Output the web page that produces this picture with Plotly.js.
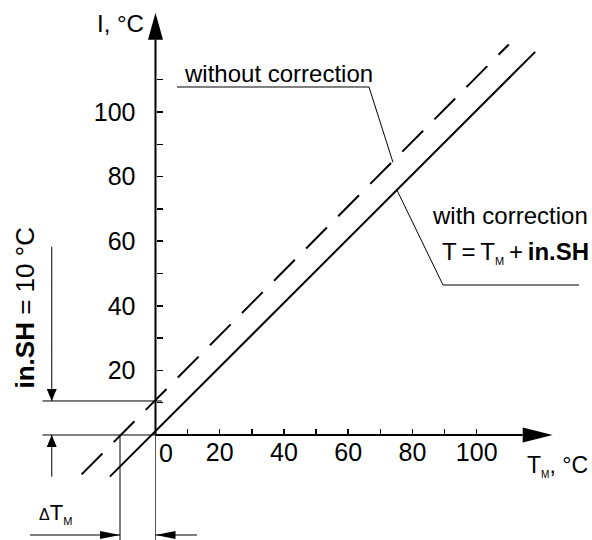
<!DOCTYPE html>
<html>
<head>
<meta charset="utf-8">
<script src="https://cdn.plot.ly/plotly-3.0.1.min.js"></script>
<style>html,body{margin:0;padding:0;background:#fff;}#chart{width:592px;height:540px;}</style>
</head>
<body>
<div id="chart"></div>
<script>
// ---- data ----
const tmWithout = [-23, 110];          // T_M for the "without correction" line (dashed)
const tWithout  = [-12.2, 120.9];      // T values
const tmWith    = [-14.2, 118.2];      // T_M for the "with correction" line (solid)
const tWith     = [-12.9, 118.6];
const xTickVals = [10, 20, 30, 40, 50, 60, 70, 80, 90, 100];
const xTickText = ['', '20', '', '40', '', '60', '', '80', '', '100'];
const yTickVals = [10, 20, 30, 40, 50, 60, 70, 80, 90, 100, 110];
const yTickText = ['', '20', '', '40', '', '60', '', '80', '', '100', ''];

const FONT = 'Liberation Sans, Arial, sans-serif';
const FS = 24;
const TFS = 25;

const traces = [
  {x: tmWithout, y: tWithout, mode: 'lines', line: {color: '#000', width: 2, dash: '29.5px,16px'}, hoverinfo: 'skip', showlegend: false},
  {x: tmWith, y: tWith, mode: 'lines', line: {color: '#000', width: 2}, hoverinfo: 'skip', showlegend: false}
];

function ln(x0, y0, x1, y1, w, c) {
  return {type: 'line', xref: 'x', yref: 'y', x0: x0, y0: y0, x1: x1, y1: y1, line: {color: c || '#000', width: w}};
}
function head(x, y, path) {
  return {type: 'path', xref: 'x', yref: 'y', xsizemode: 'pixel', ysizemode: 'pixel', xanchor: x, yanchor: y,
          path: path, fillcolor: '#000', line: {width: 0}};
}

const shapes = [
  // axes
  ln(0, 0, 114.3, 0, 2), ln(-35.2, 0, 0, 0, 1),
  ln(0, 0, 0, 122.5, 2), ln(0, -32.6, 0, 0, 1, '#555'),
  head(123.66, 0, 'M0,0 L-30,-7.5 L-30,7.5 Z'),
  head(0, 130.7, 'M0,0 L-7.5,-27 L7.5,-27 Z'),
  // in.SH dimension
  ln(-35.2, 10.53, 2.0, 10.53, 1),
  ln(-32.3, 58.3, -32.3, 10.53, 1),
  head(-32.3, 10.53, 'M0,0 L-5,12 L5,12 Z'),
  ln(-32.3, -12.9, -32.3, 0, 1),
  head(-32.3, 0, 'M0,0 L-5,-12 L5,-12 Z'),
  // delta T_M dimension
  ln(-11.05, 0, -11.05, -32.6, 1),
  ln(-39.07, -30.96, -11.05, -30.96, 1),
  head(-11.05, -30.96, 'M0,0 L-20,-4 L-20,4 Z'),
  ln(12.92, -30.96, 0, -30.96, 1),
  head(0, -30.96, 'M0,0 L20,-4 L20,4 Z'),
  // leaders
  {type: 'path', xref: 'x', yref: 'y', path: 'M6.69,107.74 L66.47,107.74 L73.94,84.4', line: {color: '#000', width: 1}},
  {type: 'path', xref: 'x', yref: 'y', path: 'M131.85,46.44 L89.51,46.44 L75.19,75.8', line: {color: '#000', width: 1}}
];

function ann(x, y, text, opts) {
  return Object.assign({x: x, y: y, xref: 'x', yref: 'y', text: text, showarrow: false,
    font: {family: FONT, size: FS, color: '#000'}, xanchor: 'left', yanchor: 'middle'}, opts || {});
}

const annotations = [
  ann(-2.96, 127.5, 'I, °C', {xanchor: 'right'}),
  ann(8.25, 112.0, 'without correction'),
  ann(135.2, 67.8, 'with correction', {xanchor: 'right'}),
  ann(135.5, 56.6, 'T\u2009=\u2009T<sub><span style="font-size:11px">M</span></sub>\u2009+\u2009<b>in.SH</b>', {xanchor: 'right'}),
  ann(115, -9.6, 'T<sub><span style="font-size:10px">M</span></sub>, °C', {font: {family: FONT, size: 23, color: '#000'}}),
  ann(-36.9, -24.2, '<span style="font-size:16px">Δ</span>T<sub><span style="font-size:11px">M</span></sub>', {font: {family: FONT, size: 22, color: '#000'}}),
  ann(-40.63, 39.47, '<b>in.SH</b> = 10 °C', {textangle: -90, xanchor: 'center', font: {family: FONT, size: 26, color: '#000'}}),
  ann(3.27, -5.57, '0', {xanchor: 'center', font: {family: FONT, size: TFS, color: '#000'}})
];

const layout = {
  width: 592, height: 540,
  margin: {l: 0, r: 0, t: 0, b: 0, pad: 0},
  paper_bgcolor: '#fff', plot_bgcolor: '#fff',
  font: {family: FONT, size: FS, color: '#000'},
  xaxis: {range: [-48.41, 135.90], anchor: 'free', position: 0.19444, showgrid: false, zeroline: false, showline: false,
          ticks: 'inside', ticklen: 6, tickwidth: 1.5, tickcolor: '#000', tickmode: 'array', tickvals: xTickVals, ticktext: xTickText,
          tickfont: {family: FONT, size: TFS, color: '#000'}, fixedrange: true},
  yaxis: {range: [-32.51, 134.67], anchor: 'free', position: 0.26267, showgrid: false, zeroline: false, showline: false,
          ticks: 'inside', ticklen: 6, tickwidth: 1.5, tickcolor: '#000', tickmode: 'array', tickvals: yTickVals, ticktext: yTickText,
          ticklabelstandoff: 20,
          tickfont: {family: FONT, size: TFS, color: '#000'}, fixedrange: true},
  shapes: shapes,
  annotations: annotations,
  showlegend: false
};

Plotly.newPlot('chart', traces, layout, {staticPlot: true, displayModeBar: false});
</script>
</body>
</html>
